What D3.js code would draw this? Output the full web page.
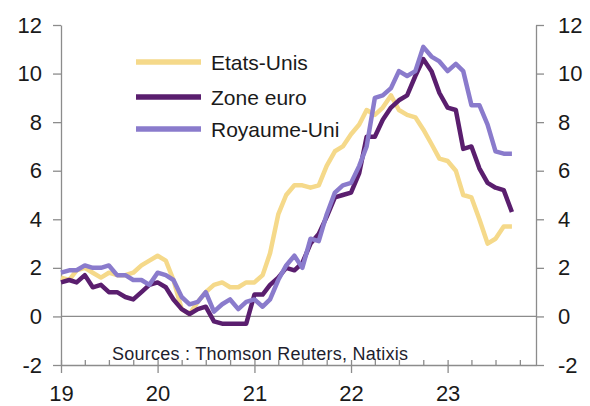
<!DOCTYPE html>
<html lang="fr">
<head>
<meta charset="UTF-8">
<title>Inflation</title>
<style>
    body { margin: 0; background: #fff; }
    svg { display: block; font-family: "Liberation Sans", Arial, sans-serif; }
    .axis path, .axis line { stroke: #8c8c8c; stroke-width: 1.3; }
    .axis text { fill: #1a1a1a; font-size: 22px; }
</style>
</head>
<body>
<svg id="chart"></svg>
<script src="https://d3js.org/d3.v7.min.js"></script>
<script>
    // glissement annuel des prix, mensuel, janv. 2019 -> sept. 2023
    var seriesNames = ['Etats-Unis', 'Zone euro', 'Royaume-Uni']
    var etatsUnis = [1.6, 1.5, 1.9, 2.0, 1.8, 1.6, 1.8, 1.7, 1.7, 1.8, 2.1, 2.3,
        2.5, 2.3, 1.5, 0.3, 0.1, 0.6, 1.0, 1.3, 1.4, 1.2, 1.2, 1.4,
        1.4, 1.7, 2.6, 4.2, 5.0, 5.4, 5.4, 5.3, 5.4, 6.2, 6.8, 7.0,
        7.5, 7.9, 8.5, 8.3, 8.6, 9.1, 8.5, 8.3, 8.2, 7.7, 7.1, 6.5,
        6.4, 6.0, 5.0, 4.9, 4.0, 3.0, 3.2, 3.7, 3.7]
    var zoneEuro = [1.4, 1.5, 1.4, 1.7, 1.2, 1.3, 1.0, 1.0, 0.8, 0.7, 1.0, 1.3,
        1.4, 1.2, 0.7, 0.3, 0.1, 0.3, 0.4, -0.2, -0.3, -0.3, -0.3, -0.3,
        0.9, 0.9, 1.3, 1.6, 2.0, 1.9, 2.2, 3.0, 3.4, 4.1, 4.9, 5.0,
        5.1, 5.9, 7.4, 7.4, 8.1, 8.6, 8.9, 9.1, 9.9, 10.6, 10.1, 9.2,
        8.6, 8.5, 6.9, 7.0, 6.1, 5.5, 5.3, 5.2, 4.3]
    var royaumeUni = [1.8, 1.9, 1.9, 2.1, 2.0, 2.0, 2.1, 1.7, 1.7, 1.5, 1.5, 1.3,
        1.8, 1.7, 1.5, 0.8, 0.5, 0.6, 1.0, 0.2, 0.5, 0.7, 0.3, 0.6,
        0.7, 0.4, 0.7, 1.5, 2.1, 2.5, 2.0, 3.2, 3.1, 4.2, 5.1, 5.4,
        5.5, 6.2, 7.0, 9.0, 9.1, 9.4, 10.1, 9.9, 10.1, 11.1, 10.7, 10.5,
        10.1, 10.4, 10.1, 8.7, 8.7, 7.9, 6.8, 6.7, 6.7]
    var yTicks = [-2, 0, 2, 4, 6, 8, 10, 12]
    var colors = ['#f5d98a', '#5a1e6e', '#8a7bcc']
    var source = 'Sources : Thomson Reuters, Natixis'

    var months = d3.timeMonth.range(new Date(2019, 0, 1), new Date(2023, 9, 1))
    var series = [etatsUnis, zoneEuro, royaumeUni]

    var svgWidth = 590, svgHeight = 406
    var plotLeft = 61, plotRight = 536, plotTop = 25, plotBottom = 365

    var svg = d3.select('#chart')
        .attr('width', svgWidth)
        .attr('height', svgHeight)

    var x = d3.scaleTime()
        .domain([new Date(2019, 0, 1), new Date(2023, 11, 1)])
        .range([plotLeft, plotRight])
    var y = d3.scaleLinear()
        .domain([-2, 12])
        .range([plotBottom, plotTop])

    var yFormat = function (d) { return String(d) }  // tiret simple, pas le signe moins

    // axes
    svg.append('g')
        .attr('class', 'axis')
        .attr('transform', 'translate(0,' + plotBottom + ')')
        .call(d3.axisBottom(x).ticks(d3.timeMonth.every(3)).tickSize(-5).tickSizeOuter(0).tickFormat(''))
    svg.append('g')
        .attr('class', 'axis')
        .attr('transform', 'translate(0,' + plotBottom + ')')
        .call(d3.axisBottom(x).ticks(d3.timeYear.every(1)).tickSize(8).tickSizeOuter(0).tickPadding(12)
            .tickFormat(d3.timeFormat('%y')))
        .call(function (g) { g.select('.domain').remove() })
    svg.append('g')
        .attr('class', 'axis')
        .attr('transform', 'translate(' + plotLeft + ',0)')
        .call(d3.axisLeft(y).tickValues(yTicks).tickSize(8).tickSizeOuter(0).tickPadding(11).tickFormat(yFormat))
    svg.append('g')
        .attr('class', 'axis')
        .attr('transform', 'translate(' + plotRight + ',0)')
        .call(d3.axisRight(y).tickValues(yTicks).tickSize(8).tickSizeOuter(0).tickPadding(14).tickFormat(yFormat))

    svg.append('line')
        .attr('x1', plotLeft).attr('x2', plotRight)
        .attr('y1', y(0)).attr('y2', y(0))
        .attr('stroke', '#8c8c8c')
        .attr('stroke-width', 1.3)

    svg.append('text')
        .attr('x', 112)
        .attr('y', 360)
        .attr('font-size', 18)
        .attr('fill', '#1e1e2e')
        .attr('textLength', 296)
        .text(source)

    // courbes
    var line = d3.line()
        .x(function (d, i) { return x(months[i]) })
        .y(function (d) { return y(d) })

    svg.selectAll('.serie')
        .data(series)
        .enter()
        .append('path')
        .attr('class', 'serie')
        .attr('d', line)
        .attr('fill', 'none')
        .attr('stroke', function (d, i) { return colors[i] })
        .attr('stroke-width', 4.5)
        .attr('stroke-linejoin', 'round')

    // légende
    var legendY = [62, 97, 129]
    var legend = svg.selectAll('.legend')
        .data(seriesNames)
        .enter()
        .append('g')
        .attr('class', 'legend')
        .attr('transform', function (d, i) { return 'translate(136,' + legendY[i] + ')' })
    legend.append('line')
        .attr('x1', 0).attr('x2', 65)
        .attr('stroke', function (d, i) { return colors[i] })
        .attr('stroke-width', 5.5)
    legend.append('text')
        .attr('x', 75)
        .attr('dy', '0.36em')
        .attr('font-size', 21)
        .attr('fill', '#1a1a1a')
        .text(function (d) { return d })
</script>
</body>
</html>
